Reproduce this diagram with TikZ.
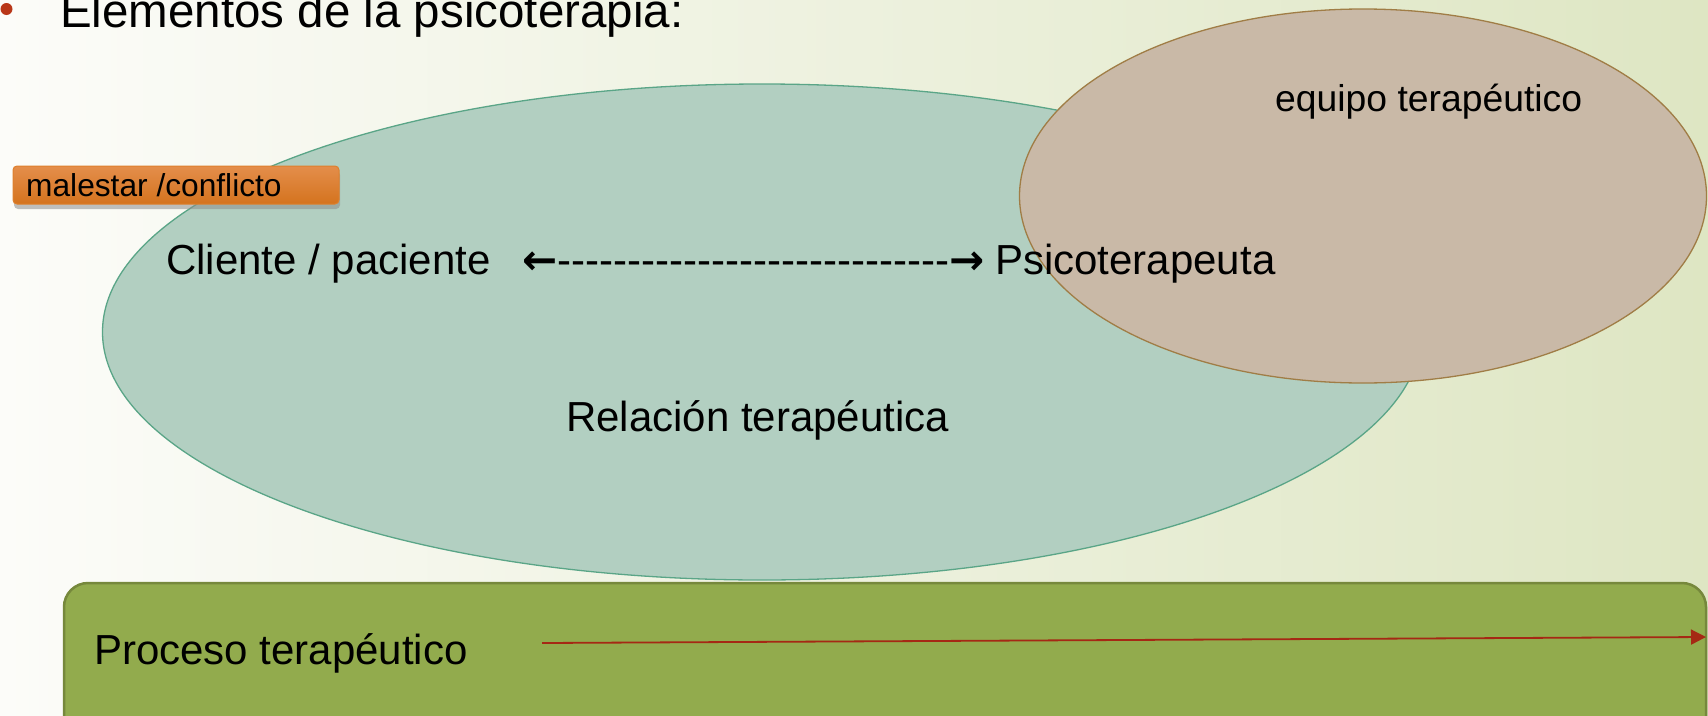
\documentclass[tikz,border=0pt]{standalone}
\usepackage{fontspec}
\setmainfont{Liberation Sans}
\newfontfamily\arrowfont{DejaVu Sans}
\usetikzlibrary{arrows.meta,shapes.geometric,shadows}
\definecolor{bgL}{RGB}{252,252,249}
\definecolor{bgM}{RGB}{240,243,228}
\definecolor{bgR}{RGB}{222,230,195}
\definecolor{tealfill}{RGB}{178,207,193}
\definecolor{tealline}{RGB}{90,165,135}
\definecolor{tanfill}{RGB}{201,185,167}
\definecolor{tanline}{RGB}{160,125,70}
\definecolor{olivefill}{RGB}{146,171,77}
\definecolor{oliveline}{RGB}{118,136,60}
\definecolor{orangetop}{RGB}{228,142,75}
\definecolor{orangebot}{RGB}{212,115,30}
\definecolor{orangeline}{RGB}{222,128,45}
\definecolor{arrowred}{RGB}{165,40,20}
\definecolor{bulletred}{RGB}{185,55,25}
\newcommand\hy{-\kern0pt}
\newcommand\hyrow{\hy\hy\hy\hy\hy\hy\hy\hy\hy\hy\hy\hy\hy\hy\hy\hy\hy\hy\hy\hy\hy\hy\hy\hy\hy\hy\hy\hy}
\begin{document}
\begin{tikzpicture}[x=1pt,y=-1pt,
  txt/.style={inner sep=0pt, anchor=base west, text=black},
  big/.style={txt, font=\fontsize{42}{50}\selectfont},
  blob/.style={ellipse, inner sep=0pt, line width=1.3pt}]
\useasboundingbox (0,0) rectangle (1708,715);
\clip (0,0) rectangle (1708,715);
\shade[left color=bgL, middle color=bgM, right color=bgR] (0,0) rectangle (1708,715);

% bullet and title
\node[circle, fill=bulletred, minimum size=12pt, inner sep=0pt] (bul) at (6.5,9) {};
\node[txt, font=\fontsize{47.5}{56}\selectfont] (title) at (60,27) {Elementos de la psicoterapia:};

% ellipses
\node[blob, fill=tealfill, draw=tealline, minimum width=1319pt, minimum height=496pt] (relation) at (762,332) {};
\node[blob, fill=tanfill, draw=tanline, minimum width=687pt, minimum height=374pt] (team) at (1363,196) {};

% malestar box
\node[rectangle, rounded corners=4pt, top color=orangetop, bottom color=orangebot, draw=orangeline, line width=1pt,
      minimum width=326pt, minimum height=38pt, inner sep=0pt,
      drop shadow={shadow xshift=1pt, shadow yshift=-5pt, fill=black!45, opacity=.55}] (malbox) at (176,185) {};
\node[txt, font=\fontsize{31.7}{38}\selectfont] (mallbl) at (26,196) {malestar /conflicto};

% texts
\node[txt, font=\fontsize{37.3}{44}\selectfont] (equipo) at (1275,111) {equipo terapéutico};
\node[big] (cliente) at (166,274) {Cliente / paciente};
\node[big] (link) at (522,274) {{\arrowfont\bfseries ←}\hyrow{\arrowfont\bfseries →}};
\node[big] (psico) at (995,274) {Psicoterapeuta};
\node[big] (reltxt) at (566,431) {Relación terapéutica};

% process bar
\node[rectangle, rounded corners=24pt, fill=olivefill, draw=oliveline, line width=2.5pt,
      minimum width=1642pt, minimum height=177pt, inner sep=0pt] (proc) at (885,671.5) {};
\node[big] (proctxt) at (94,664) {Proceso terapéutico};
\coordinate (arrS) at (542,643);
\coordinate (arrE) at (1706,637);
\draw[arrowred, line width=1.8pt, -{Triangle[length=15pt,width=15pt]}] (arrS) -- (arrE);
\end{tikzpicture}
\end{document}
